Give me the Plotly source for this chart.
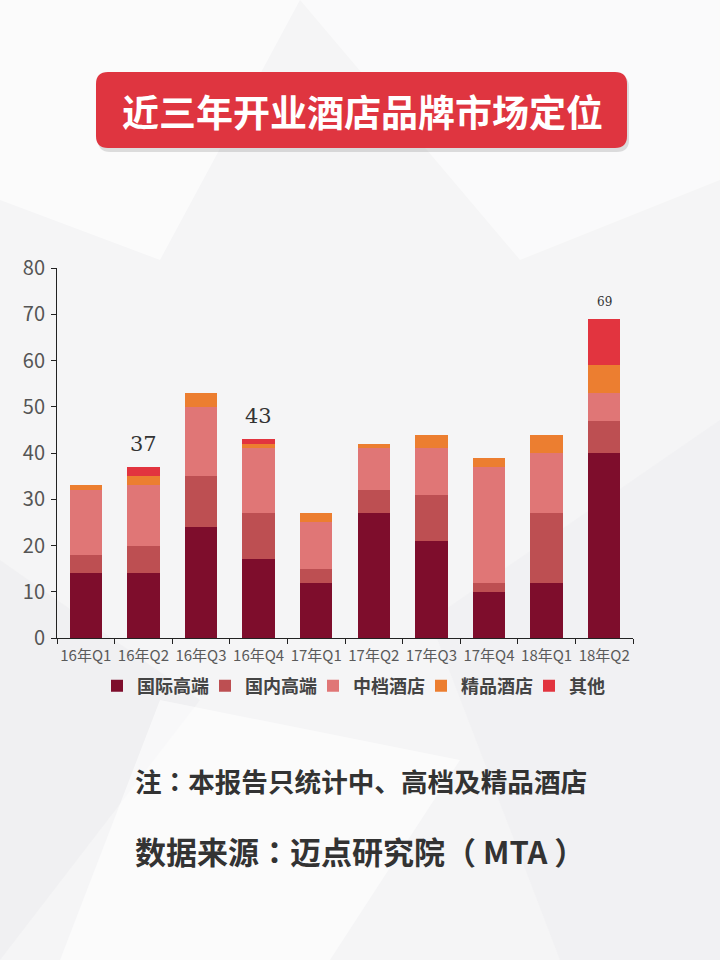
import plotly.graph_objects as go

categories = ["16年Q1", "16年Q2", "16年Q3", "16年Q4", "17年Q1", "17年Q2", "17年Q3", "17年Q4", "18年Q1", "18年Q2"]
intl_high = [14, 14, 24, 17, 12, 27, 21, 10, 12, 40]
dom_high = [4, 6, 11, 10, 3, 5, 10, 2, 15, 7]
midscale = [14, 13, 15, 14, 10, 9, 10, 25, 13, 6]
boutique = [1, 2, 3, 1, 2, 1, 3, 2, 4, 6]
others = [0, 2, 0, 1, 0, 0, 0, 0, 0, 10]
series_names = ["国际高端", "国内高端", "中档酒店", "精品酒店", "其他"]
labelled = {"16年Q2": "big", "16年Q4": "big", "18年Q2": "small"}

colors = ["#7e0d2c", "#bd4f52", "#e07676", "#ec7e30", "#e2343f"]
series = [intl_high, dom_high, midscale, boutique, others]

W, H = 720, 960
L, R, T, B = 57, 633, 268, 638

fig = go.Figure()
for name, vals, c in zip(series_names, series, colors):
    fig.add_trace(go.Bar(x=categories, y=vals, name=name, marker=dict(color=c, line=dict(width=0))))

totals = [sum(v) for v in zip(*series)]
for cat, tot in zip(categories, totals):
    if cat in labelled:
        big = labelled[cat] == "big"
        fig.add_annotation(x=cat, y=tot, text=str(tot), showarrow=False, yanchor="bottom",
                           yshift=9 if big else 8,
                           font=dict(family="DejaVu Serif, Liberation Serif, serif",
                                     size=21 if big else 12, color="#333333"))

def px(x):
    return (x - L) / (R - L)

def py(y):
    return (B - y) / (B - T)

# subtle background facets
polys = [
    [(0, 0), (300, 0), (160, 260), (0, 200)],
    [(300, 0), (720, 0), (720, 180), (520, 260)],
    [(0, 560), (200, 700), (0, 960)],
    [(430, 620), (720, 420), (720, 960), (560, 960)],
    [(160, 700), (460, 760), (330, 960), (60, 960)],
]
fills = ["rgba(255,255,255,0.6)", "rgba(255,255,255,0.5)", "rgba(232,232,235,0.35)",
         "rgba(235,235,238,0.35)", "rgba(255,255,255,0.55)"]
for poly, f in zip(polys, fills):
    d = "M " + " L ".join(f"{px(x):.4f},{py(y):.4f}" for x, y in poly) + " Z"
    fig.add_shape(type="path", path=d, xref="paper", yref="paper", fillcolor=f,
                  line=dict(width=0), layer="below")

def rrect(x0, y0, x1, y1, r):
    return (f"M {px(x0+r):.4f},{py(y0):.4f} L {px(x1-r):.4f},{py(y0):.4f} "
            f"Q {px(x1):.4f},{py(y0):.4f} {px(x1):.4f},{py(y0+r):.4f} "
            f"L {px(x1):.4f},{py(y1-r):.4f} Q {px(x1):.4f},{py(y1):.4f} {px(x1-r):.4f},{py(y1):.4f} "
            f"L {px(x0+r):.4f},{py(y1):.4f} Q {px(x0):.4f},{py(y1):.4f} {px(x0):.4f},{py(y1-r):.4f} "
            f"L {px(x0):.4f},{py(y0+r):.4f} Q {px(x0):.4f},{py(y0):.4f} {px(x0+r):.4f},{py(y0):.4f} Z")

fig.add_shape(type="path", path=rrect(98, 75, 629, 152, 12), xref="paper", yref="paper",
              fillcolor="rgba(0,0,0,0.12)", line=dict(width=0), layer="above")
fig.add_shape(type="path", path=rrect(96, 72, 627, 148, 12), xref="paper", yref="paper",
              fillcolor="#df3540", line=dict(width=0), layer="above")
fig.add_annotation(x=px(362), y=py(111), xref="paper", yref="paper", showarrow=False,
                   xanchor="center", yanchor="middle",
                   text="<b>近三年开业酒店品牌市场定位</b>",
                   font=dict(family="Noto Sans CJK SC", size=37, color="white"))

colon = "<span style=\"font-family:'Noto Sans CJK JP'\">：</span>"
fig.add_annotation(x=px(133), y=py(780), xref="paper", yref="paper", showarrow=False,
                   xanchor="left", yanchor="middle",
                   text=f"<b>注{colon}本报告只统计中、高档及精品酒店</b>",
                   font=dict(family="Noto Sans CJK SC", size=26.6, color="#333333"))
fig.add_annotation(x=px(133), y=py(850), xref="paper", yref="paper", showarrow=False,
                   xanchor="left", yanchor="middle",
                   text=f"<b>数据来源{colon}迈点研究院（ MTA ）</b>",
                   font=dict(family="Noto Sans CJK SC", size=31, color="#333333"))

fig.update_layout(
    width=W, height=H,
    margin=dict(l=L, r=W - R, t=T, b=H - B, pad=0),
    barmode="stack", bargap=0.44,
    paper_bgcolor="#f5f5f6", plot_bgcolor="rgba(0,0,0,0)",
    font=dict(family="Noto Sans CJK SC", color="#555555"),
    showlegend=True,
    legend=dict(orientation="h", x=px(97), xanchor="left", y=py(686), yanchor="middle",
                font=dict(size=18, color="#444444", family="Noto Sans CJK SC", weight="bold"),
                bgcolor="rgba(0,0,0,0)", traceorder="normal", itemwidth=30,
                entrywidth=63, entrywidthmode="pixels"),
    xaxis=dict(showline=True, linecolor="#222222", linewidth=1, ticks="outside",
               tickson="boundaries", ticklen=5, tickcolor="#222222", tickangle=0,
               tickfont=dict(size=15, color="#5a5a5a"), showgrid=False, fixedrange=True,
               ticklabelstandoff=4),
    yaxis=dict(range=[0, 80], dtick=10, showline=True, linecolor="#222222", linewidth=1,
               ticks="outside", ticklen=5, tickcolor="#222222", showgrid=False, zeroline=False,
               tickfont=dict(size=20, color="#555555"), ticklabelstandoff=2),
)

fig.write_html("out.html", config={"displayModeBar": False},
               post_script="document.body.style.margin='0';")
